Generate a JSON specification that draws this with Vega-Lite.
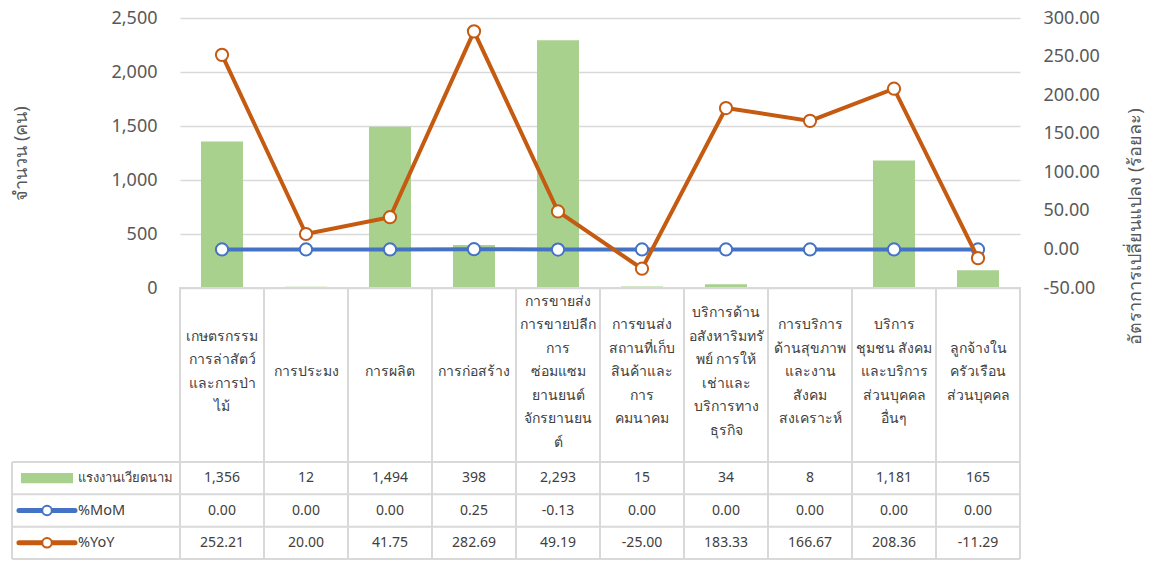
{
  "$schema": "https://vega.github.io/schema/vega-lite/v6.json",
  "padding": {"left": 11, "top": 9, "right": 0, "bottom": 0},
  "background": "white",
  "config": {
    "font": "Noto Sans",
    "view": {"stroke": null},
    "text": {"font": "Noto Sans"},
    "axis": {"labelOverlap": false},
    "locale": {"number": {"decimal": ".", "thousands": ",", "grouping": [3], "currency": ["$", ""], "minus": "-"}}
  },
  "datasets": {
    "main": [
      {"category": "เกษตรกรรม\nการล่าสัตว์\nและการป่า\nไม้", "workers": 1356, "mom": 0, "yoy": 252.21},
      {"category": "การประมง", "workers": 12, "mom": 0, "yoy": 20},
      {"category": "การผลิต", "workers": 1494, "mom": 0, "yoy": 41.75},
      {"category": "การก่อสร้าง", "workers": 398, "mom": 0.25, "yoy": 282.69},
      {"category": "การขายส่ง\nการขายปลีก\nการ\nซ่อมแซม\nยานยนต์\nจักรยานยน\nต์", "workers": 2293, "mom": -0.13, "yoy": 49.19},
      {"category": "การขนส่ง\nสถานที่เก็บ\nสินค้าและ\nการ\nคมนาคม", "workers": 15, "mom": 0, "yoy": -25},
      {"category": "บริการด้าน\nอสังหาริมทรั\nพย์ การให้\nเช่าและ\nบริการทาง\nธุรกิจ", "workers": 34, "mom": 0, "yoy": 183.33},
      {"category": "การบริการ\nด้านสุขภาพ\nและงาน\nสังคม\nสงเคราะห์", "workers": 8, "mom": 0, "yoy": 166.67},
      {"category": "บริการ\nชุมชน สังคม\nและบริการ\nส่วนบุคคล\nอื่นๆ", "workers": 1181, "mom": 0, "yoy": 208.36},
      {"category": "ลูกจ้างใน\nครัวเรือน\nส่วนบุคคล", "workers": 165, "mom": 0, "yoy": -11.29}
    ],
    "series": [
      {"series": "แรงงานเวียดนาม"},
      {"series": "%MoM"},
      {"series": "%YoY"}
    ]
  },
  "spacing": 0,
  "bounds": "flush",
  "resolve": {"scale": {"x": "independent", "y": "independent"}},
  "vconcat": [
    {
      "width": 840,
      "height": 270,
      "data": {"name": "main"},
      "layer": [
        {
          "mark": {"type": "bar", "color": "#a9d18e"},
          "encoding": {
            "x": {"field": "category", "type": "nominal", "sort": null,
                  "scale": {"paddingInner": 0.5, "paddingOuter": 0.25}, "axis": null},
            "y": {"field": "workers", "type": "quantitative",
                  "scale": {"domain": [0, 2500], "nice": false},
                  "axis": {"values": [0, 500, 1000, 1500, 2000, 2500], "format": ",.0f",
                           "domain": false, "ticks": false, "grid": true, "labelOverlap": false,
                           "gridColor": "#d9d9d9", "gridWidth": 1.5,
                           "labelFontSize": 18, "labelColor": "#595959", "labelPadding": 23,
                           "title": "จำนวน (คน)", "titleFontSize": 18, "titleFontWeight": "normal",
                           "titleColor": "#595959", "titlePadding": 80}}
          }
        },
        {
          "layer": [
            {
              "mark": {"type": "line", "color": "#4472c4", "strokeWidth": 4,
                       "point": {"filled": true, "fill": "white", "stroke": "#4472c4", "strokeWidth": 2, "size": 150}},
              "encoding": {
                "x": {"field": "category", "type": "nominal", "sort": null},
                "y": {"field": "mom", "type": "quantitative",
                      "scale": {"domain": [-50, 300], "nice": false, "zero": false},
                      "axis": {"orient": "right", "values": [-50, 0, 50, 100, 150, 200, 250, 300], "format": ".2f",
                               "domain": false, "ticks": false, "grid": false, "labelOverlap": false,
                               "labelFontSize": 18, "labelColor": "#595959", "labelPadding": 23,
                               "title": "อัตราการเปลี่ยนแปลง (ร้อยละ)", "titleFontSize": 18, "titleFontWeight": "normal",
                               "titleColor": "#595959", "titleAngle": 270, "titlePadding": 45, "titleY": 208}}
              }
            },
            {
              "mark": {"type": "line", "color": "#c55a11", "strokeWidth": 4,
                       "point": {"filled": true, "fill": "white", "stroke": "#c55a11", "strokeWidth": 2, "size": 150}},
              "encoding": {
                "x": {"field": "category", "type": "nominal", "sort": null},
                "y": {"field": "yoy", "type": "quantitative",
                      "axis": {"orient": "right", "values": [-50, 0, 50, 100, 150, 200, 250, 300], "format": ".2f",
                               "domain": false, "ticks": false, "grid": false, "labelOverlap": false,
                               "labelFontSize": 18, "labelColor": "#595959", "labelPadding": 23,
                               "title": "อัตราการเปลี่ยนแปลง (ร้อยละ)", "titleFontSize": 18, "titleFontWeight": "normal",
                               "titleColor": "#595959", "titleAngle": 270, "titlePadding": 45, "titleY": 208}}
              }
            }
          ]
        }
      ],
      "resolve": {"scale": {"y": "independent"}}
    },
    {
      "width": 840,
      "height": 174,
      "data": {"name": "main"},
      "view": {"stroke": "#d9d9d9", "strokeWidth": 2},
      "layer": [
        {
          "mark": {"type": "rule", "color": "#d9d9d9", "strokeWidth": 2},
          "encoding": {
            "x": {"field": "category", "type": "nominal", "sort": null, "bandPosition": 0,
                  "scale": {"paddingInner": 0, "paddingOuter": 0}, "axis": null}
          }
        },
        {
          "mark": {"type": "text", "fontSize": 14, "color": "#404040", "lineBreak": "\n", "lineHeight": 23.5, "baseline": "middle",
                   "dy": {"expr": "-(length(split(datum.category, '\\n')) - 1) * 11.75 - 3"}},
          "encoding": {
            "x": {"field": "category", "type": "nominal", "sort": null},
            "text": {"field": "category"}
          }
        }
      ]
    },
    {
      "width": 840,
      "height": 97,
      "layer": [
        {
          "data": {"name": "main"},
          "mark": {"type": "rule", "color": "#d9d9d9", "strokeWidth": 2},
          "encoding": {
            "x": {"field": "category", "type": "nominal", "bandPosition": 0,
                  "scale": {"domain": ["_l1", "_l2",
                    "เกษตรกรรม\nการล่าสัตว์\nและการป่า\nไม้", "การประมง", "การผลิต", "การก่อสร้าง",
                    "การขายส่ง\nการขายปลีก\nการ\nซ่อมแซม\nยานยนต์\nจักรยานยน\nต์",
                    "การขนส่ง\nสถานที่เก็บ\nสินค้าและ\nการ\nคมนาคม",
                    "บริการด้าน\nอสังหาริมทรั\nพย์ การให้\nเช่าและ\nบริการทาง\nธุรกิจ",
                    "การบริการ\nด้านสุขภาพ\nและงาน\nสังคม\nสงเคราะห์",
                    "บริการ\nชุมชน สังคม\nและบริการ\nส่วนบุคคล\nอื่นๆ",
                    "ลูกจ้างใน\nครัวเรือน\nส่วนบุคคล"],
                    "range": [-168, 840], "paddingInner": 0, "paddingOuter": 0},
                  "axis": null}
          }
        },
        {
          "data": {"name": "series"},
          "mark": {"type": "rule", "color": "#d9d9d9", "strokeWidth": 2},
          "encoding": {
            "x": {"datum": "_l1", "type": "nominal", "bandPosition": 0}
          }
        },
        {
          "data": {"name": "series"},
          "mark": {"type": "rule", "color": "#d9d9d9", "strokeWidth": 2},
          "encoding": {
            "x": {"datum": "ลูกจ้างใน\nครัวเรือน\nส่วนบุคคล", "type": "nominal", "bandPosition": 1}
          }
        },
        {
          "data": {"name": "series"},
          "mark": {"type": "rule", "color": "#d9d9d9", "strokeWidth": 2},
          "encoding": {
            "x": {"datum": "_l1", "type": "nominal", "bandPosition": 0},
            "x2": {"datum": "ลูกจ้างใน\nครัวเรือน\nส่วนบุคคล", "bandPosition": 1},
            "y": {"field": "series", "type": "nominal", "bandPosition": 0,
                  "scale": {"domain": ["แรงงานเวียดนาม", "%MoM", "%YoY"], "paddingInner": 0, "paddingOuter": 0},
                  "axis": null}
          }
        },
        {
          "data": {"name": "series"},
          "mark": {"type": "rule", "color": "#d9d9d9", "strokeWidth": 2},
          "encoding": {
            "x": {"datum": "_l1", "type": "nominal", "bandPosition": 0},
            "x2": {"datum": "ลูกจ้างใน\nครัวเรือน\nส่วนบุคคล", "bandPosition": 1},
            "y": {"datum": "%YoY", "type": "nominal", "bandPosition": 1}
          }
        },
        {
          "data": {"name": "main"},
          "mark": {"type": "text", "fontSize": 14, "color": "#404040", "baseline": "middle"},
          "encoding": {
            "x": {"field": "category", "type": "nominal"},
            "y": {"datum": "แรงงานเวียดนาม", "type": "nominal"},
            "text": {"field": "workers", "type": "quantitative", "format": ",.0f"}
          }
        },
        {
          "data": {"name": "main"},
          "mark": {"type": "text", "fontSize": 14, "color": "#404040", "baseline": "middle"},
          "encoding": {
            "x": {"field": "category", "type": "nominal"},
            "y": {"datum": "%MoM", "type": "nominal"},
            "text": {"field": "mom", "type": "quantitative", "format": ".2f"}
          }
        },
        {
          "data": {"name": "main"},
          "mark": {"type": "text", "fontSize": 14, "color": "#404040", "baseline": "middle"},
          "encoding": {
            "x": {"field": "category", "type": "nominal"},
            "y": {"datum": "%YoY", "type": "nominal"},
            "text": {"field": "yoy", "type": "quantitative", "format": ".2f"}
          }
        },
        {
          "data": {"name": "series"},
          "mark": {"type": "text", "color": "#404040", "baseline": "middle", "align": "left"},
          "encoding": {
            "x": {"datum": "_l1", "type": "nominal", "bandPosition": 0.786},
            "y": {"field": "series", "type": "nominal"},
            "text": {"field": "series"},
            "size": {"field": "series", "type": "nominal", "legend": null,
                     "scale": {"type": "ordinal", "domain": ["แรงงานเวียดนาม", "%MoM", "%YoY"], "range": [13, 14.5, 14.5]}}
          }
        },
        {
          "data": {"name": "series"},
          "transform": [{"filter": "datum.series === 'แรงงานเวียดนาม'"}],
          "mark": {"type": "rect", "color": "#a9d18e"},
          "encoding": {
            "x": {"datum": "_l1", "type": "nominal", "bandPosition": 0.107},
            "x2": {"datum": "_l1", "bandPosition": 0.726},
            "y": {"field": "series", "type": "nominal", "bandPosition": 0.34},
            "y2": {"field": "series", "bandPosition": 0.66}
          }
        },
        {
          "data": {"name": "series"},
          "transform": [{"filter": "datum.series !== 'แรงงานเวียดนาม'"}],
          "mark": {"type": "rule", "strokeWidth": 5, "strokeCap": "round"},
          "encoding": {
            "x": {"datum": "_l1", "type": "nominal", "bandPosition": 0.083},
            "x2": {"datum": "_l1", "bandPosition": 0.75},
            "y": {"field": "series", "type": "nominal", "bandPosition": 0.5},
            "color": {"field": "series", "type": "nominal", "legend": null,
                      "scale": {"domain": ["%MoM", "%YoY"], "range": ["#4472c4", "#c55a11"]}}
          }
        },
        {
          "data": {"name": "series"},
          "transform": [{"filter": "datum.series !== 'แรงงานเวียดนาม'"}],
          "mark": {"type": "point", "filled": true, "fill": "white", "strokeWidth": 2, "size": 90, "opacity": 1},
          "encoding": {
            "x": {"datum": "_l1", "type": "nominal", "bandPosition": 0.417},
            "y": {"field": "series", "type": "nominal", "bandPosition": 0.5},
            "stroke": {"field": "series", "type": "nominal", "legend": null,
                       "scale": {"domain": ["%MoM", "%YoY"], "range": ["#4472c4", "#c55a11"]}}
          }
        }
      ]
    }
  ]
}
